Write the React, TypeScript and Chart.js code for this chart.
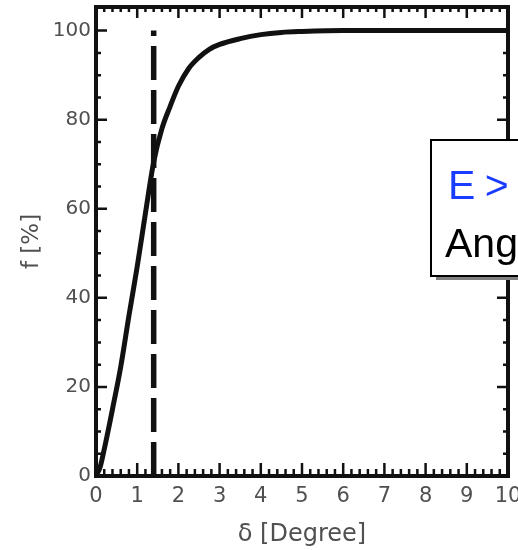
import React, { useEffect, useRef } from "react";
import { Chart, registerables } from "chart.js";

Chart.register(...registerables);

// ---- data ----
const DELTA = [0, 0.1, 0.2, 0.4, 0.6, 0.8, 1.0, 1.2, 1.4, 1.6, 1.8, 2.0, 2.25, 2.5, 2.75, 3.0, 3.5, 4.0, 4.5, 5.0, 6.0, 7.0, 8.0, 9.0, 10.0];
const F_PERCENT = [0, 2, 6, 15, 24.5, 36, 47, 59, 70.5, 78, 83, 87.5, 91.5, 94, 95.8, 96.9, 98.2, 99.1, 99.6, 99.8, 100, 100, 100, 100, 100];
const CUTOFF_DELTA = 1.4;
const CUTOFF_RANGE = [0, 100];
const X_TICKS = [0, 1, 2, 3, 4, 5, 6, 7, 8, 9, 10];
const Y_TICKS = [0, 20, 40, 60, 80, 100];
const X_MINOR_STEP = 0.2;
const Y_MINOR_STEP = 5;
const X_TITLE = "δ [Degree]";
const Y_TITLE = "f [%]";
const BOX_LINE1 = "E >";
const BOX_LINE2 = "Ang";

const TICK_COLOR = "#505050";
const AXIS_FONT = "'DejaVu Sans', sans-serif";
const BOX_FONT = "'Liberation Sans', Arial, sans-serif";

const frameTicks = {
  id: "frameTicks",
  afterDatasetsDraw(chart: any) {
    const { ctx, chartArea: a, scales } = chart;
    const x = scales.x;
    const y = scales.y;
    ctx.save();
    ctx.strokeStyle = "#111";
    ctx.lineCap = "butt";
    ctx.lineWidth = 2.5;
    const xMax = X_TICKS[X_TICKS.length - 1];
    for (let i = 0; X_TICKS[0] + i * X_MINOR_STEP <= xMax + 1e-6; i++) {
      const v = X_TICKS[0] + i * X_MINOR_STEP;
      const major = X_TICKS.some((t) => Math.abs(t - v) < 1e-6);
      const px = x.getPixelForValue(v);
      ctx.beginPath();
      ctx.moveTo(px, a.bottom);
      ctx.lineTo(px, a.bottom - (major ? 13 : 7));
      ctx.moveTo(px, a.top);
      ctx.lineTo(px, a.top + (major ? 11 : 5));
      ctx.stroke();
    }
    const yMax = Y_TICKS[Y_TICKS.length - 1];
    for (let i = 0; Y_TICKS[0] + i * Y_MINOR_STEP <= yMax + 1e-6; i++) {
      const v = Y_TICKS[0] + i * Y_MINOR_STEP;
      const major = Y_TICKS.some((t) => Math.abs(t - v) < 1e-6);
      const len = major ? 11 : 5;
      const py = y.getPixelForValue(v);
      ctx.beginPath();
      ctx.moveTo(a.left, py);
      ctx.lineTo(a.left + len, py);
      ctx.moveTo(a.right, py);
      ctx.lineTo(a.right - len, py);
      ctx.stroke();
    }
    ctx.lineWidth = 4;
    ctx.strokeRect(a.left, a.top, a.right - a.left, a.bottom - a.top);
    ctx.restore();
  },
};

export default function App() {
  const ref = useRef<HTMLCanvasElement | null>(null);

  useEffect(() => {
    document.body.style.margin = "0";
    const canvas = ref.current;
    if (!canvas) return;
    const chart = new Chart(canvas, {
      type: "line",
      data: {
        datasets: [
          {
            data: DELTA.map((d, i) => ({ x: d, y: F_PERCENT[i] })),
            borderColor: "#111",
            borderWidth: 5,
            pointRadius: 0,
            cubicInterpolationMode: "monotone",
            fill: false,
          },
          {
            data: CUTOFF_RANGE.map((v) => ({ x: CUTOFF_DELTA, y: v })),
            borderColor: "#111",
            borderWidth: 5.5,
            borderDash: [34, 10],
            pointRadius: 0,
            fill: false,
          },
        ],
      },
      options: {
        animation: false,
        responsive: false,
        events: [],
        layout: { padding: { top: 7, left: 0, right: 0, bottom: 0 } },
        plugins: { legend: { display: false }, tooltip: { enabled: false } },
        scales: {
          x: {
            type: "linear",
            min: 0,
            max: 10,
            grid: { display: false, drawTicks: false },
            border: { display: false },
            afterBuildTicks: (s: any) => {
              s.ticks = X_TICKS.map((v) => ({ value: v }));
            },
            afterFit: (s: any) => {
              s.height = 74;
              s.paddingRight = 10;
              s.paddingLeft = 0;
            },
            ticks: {
              padding: 8,
              color: TICK_COLOR,
              font: { family: AXIS_FONT, size: 21 },
              maxRotation: 0,
              autoSkip: false,
            },
            title: {
              display: true,
              text: X_TITLE,
              color: TICK_COLOR,
              font: { family: AXIS_FONT, size: 24 },
              padding: { top: 0, bottom: 1 },
            },
          },
          y: {
            type: "linear",
            min: 0,
            max: 105.3,
            grid: { display: false, drawTicks: false },
            border: { display: false },
            afterBuildTicks: (s: any) => {
              s.ticks = Y_TICKS.map((v) => ({ value: v }));
            },
            afterFit: (s: any) => {
              s.width = 96;
              s.paddingTop = 0;
              s.paddingBottom = 0;
            },
            ticks: {
              padding: 5,
              color: TICK_COLOR,
              font: { family: AXIS_FONT, size: 20 },
              autoSkip: false,
            },
            title: {
              display: true,
              text: Y_TITLE,
              color: TICK_COLOR,
              font: { family: AXIS_FONT, size: 23 },
              padding: { top: 18, bottom: 0 },
            },
          },
        },
      },
      plugins: [frameTicks],
    } as any);
    return () => chart.destroy();
  }, []);

  return (
    <div
      style={{
        position: "fixed",
        left: 0,
        top: 0,
        width: 518,
        height: 550,
        overflow: "hidden",
        background: "#fff",
      }}
    >
      <canvas ref={ref} width={518} height={550} style={{ display: "block" }} />
      <div
        style={{
          position: "absolute",
          left: 430,
          top: 139,
          width: 140,
          height: 134,
          background: "#fff",
          border: "2px solid #000",
          boxShadow: "6px 3px 0 #808080",
          fontFamily: BOX_FONT,
          fontSize: 41,
          lineHeight: "41px",
        }}
      >
        <div style={{ position: "absolute", left: 16, top: 24, color: "#1a3cff", whiteSpace: "nowrap", letterSpacing: -1 }}>{BOX_LINE1}</div>
        <div style={{ position: "absolute", left: 13, top: 82, color: "#000", whiteSpace: "nowrap" }}>{BOX_LINE2}</div>
      </div>
    </div>
  );
}
